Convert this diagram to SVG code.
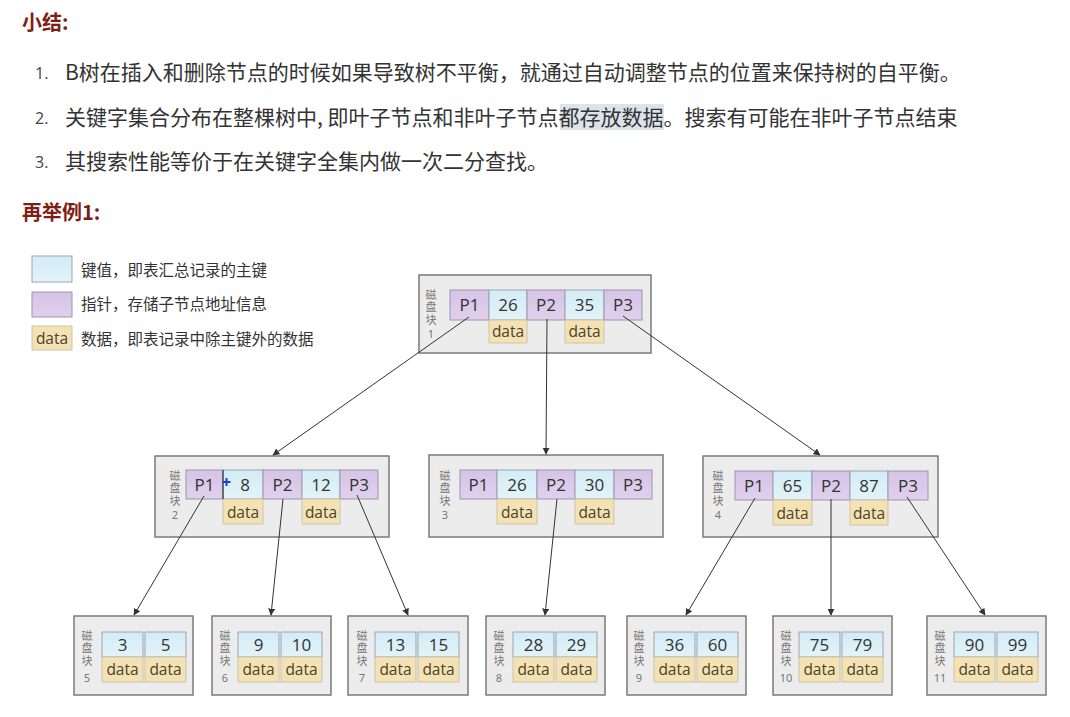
<svg xmlns="http://www.w3.org/2000/svg" width="1070" height="717" viewBox="0 0 1070 717">
  <defs>
    <marker id="arrow" viewBox="0 0 10 10" refX="9" refY="5" markerWidth="7" markerHeight="7" markerUnits="userSpaceOnUse" orient="auto">
      <path d="M0,0 L10,5 L0,10 z" fill="#333"/>
    </marker>
    <linearGradient id="gKey" x1="0" y1="0" x2="0" y2="1">
      <stop offset="0" stop-color="#d3ecf6"/>
      <stop offset="1" stop-color="#e3f3f8"/>
    </linearGradient>
    <linearGradient id="gPtr" x1="0" y1="0" x2="0" y2="1">
      <stop offset="0" stop-color="#d6c3e6"/>
      <stop offset="1" stop-color="#e0d0ec"/>
    </linearGradient>
  </defs>
  <style>
    .title { font-family: "Noto Sans CJK SC", sans-serif; font-size: 20px; font-weight: bold; fill: #7e1f16; }
    .body { font-family: "Noto Sans CJK SC", sans-serif; font-size: 21px; fill: #333; }
    .num { font-family: "Open Sans", "Noto Sans", sans-serif; font-size: 16px; fill: #444; }
    .legend { font-family: "Noto Sans CJK SC", sans-serif; font-size: 15.5px; fill: #333; }
    .box { fill: #ececec; stroke: #7a7a7a; stroke-width: 1.5; }
    .key { fill: url(#gKey); stroke: #9ba3b3; stroke-width: 1; }
    .ptr { fill: url(#gPtr); stroke: #9b95ad; stroke-width: 1; }
    .dat { fill: #f5e2b3; stroke: #c9c3b0; stroke-width: 1; }
    .ct { font-family: "Open Sans", "Noto Sans", sans-serif; font-size: 17px; fill: #333; text-anchor: middle; }
    .dt { font-family: "Open Sans", "Noto Sans", sans-serif; font-size: 15.5px; fill: #4a4230; text-anchor: middle; }
    .vl { font-family: "Noto Sans CJK SC", sans-serif; font-size: 11px; fill: #777; writing-mode: vertical-rl; text-orientation: upright; letter-spacing: 1.5px; }
    .lbl { font-family: "Noto Sans", sans-serif; font-size: 11px; fill: #777; text-anchor: middle; }
    .conn line { stroke: #333; stroke-width: 1; marker-end: url(#arrow); }
  </style>

  <rect width="1070" height="717" fill="#ffffff"/>

  <!-- summary text -->
  <g id="summary">
    <text class="title" x="22" y="30">小结:</text>
    <rect x="560" y="104" width="104" height="26" fill="#dde3ea"/>
    <text class="num" x="35" y="79">1.</text>
    <text class="body" x="65" y="80">B树在插入和删除节点的时候如果导致树不平衡，就通过自动调整节点的位置来保持树的自平衡。</text>
    <text class="num" x="35" y="124">2.</text>
    <text class="body" x="65" y="125">关键字集合分布在整棵树中, 即叶子节点和非叶子节点都存放数据。搜索有可能在非叶子节点结束</text>
    <text class="num" x="35" y="168">3.</text>
    <text class="body" x="65" y="169">其搜索性能等价于在关键字全集内做一次二分查找。</text>
    <text class="title" x="22" y="220">再举例1:</text>
  </g>

  <!-- legend -->
  <g id="legend">
    <rect class="key" x="32" y="256" width="40" height="26"/>
    <text class="legend" x="81" y="276">键值，即表汇总记录的主键</text>
    <rect class="ptr" x="32" y="292" width="40" height="25"/>
    <text class="legend" x="81" y="310">指针，存储子节点地址信息</text>
    <rect class="dat" x="32" y="326" width="40" height="24"/>
    <text class="dt" x="52" y="344">data</text>
    <text class="legend" x="81" y="345">数据，即表记录中除主键外的数据</text>
  </g>

  <!-- disk block 1 (root) -->
  <g id="block1">
    <rect class="box" x="419" y="275" width="232" height="78"/>
    <text class="vl" x="431" y="289">磁盘块</text>
    <text class="lbl" x="431" y="338">1</text>
    <rect class="ptr" x="450" y="290" width="39" height="30"/>
    <rect class="key" x="489" y="290" width="38" height="30"/>
    <rect class="ptr" x="527" y="290" width="38" height="30"/>
    <rect class="key" x="565" y="290" width="39" height="30"/>
    <rect class="ptr" x="604" y="290" width="38" height="30"/>
    <rect class="dat" x="489" y="320" width="38" height="23"/>
    <rect class="dat" x="565" y="320" width="39" height="23"/>
    <text class="ct" x="469.5" y="311">P1</text>
    <text class="ct" x="508" y="311">26</text>
    <text class="ct" x="546" y="311">P2</text>
    <text class="ct" x="584.5" y="311">35</text>
    <text class="ct" x="623" y="311">P3</text>
    <text class="dt" x="508" y="337">data</text>
    <text class="dt" x="584.5" y="337">data</text>
  </g>

  <!-- disk block 2 -->
  <g id="block2">
    <rect class="box" x="155" y="456" width="234" height="81"/>
    <text class="vl" x="175" y="470">磁盘块</text>
    <text class="lbl" x="175" y="519">2</text>
    <rect class="ptr" x="186" y="470" width="37" height="29"/>
    <rect class="key" x="223" y="470" width="40" height="29"/>
    <rect class="ptr" x="263" y="470" width="39" height="29"/>
    <rect class="key" x="302" y="470" width="38" height="29"/>
    <rect class="ptr" x="340" y="470" width="38" height="29"/>
    <rect class="dat" x="223" y="499" width="40" height="25"/>
    <rect class="dat" x="302" y="499" width="38" height="25"/>
    <line x1="223" y1="470" x2="223" y2="499" stroke="#333" stroke-width="1.2"/>
    <text class="ct" x="204.5" y="491">P1</text>
    <text class="ct" x="245" y="491">8</text>
    <text class="ct" x="282.5" y="491">P2</text>
    <text class="ct" x="321" y="491">12</text>
    <text class="ct" x="359" y="491">P3</text>
    <text class="dt" x="243" y="518">data</text>
    <text class="dt" x="321" y="518">data</text>
    <path d="M222.5,482 H230.5 M226.5,478 V486" stroke="#1a3cd0" stroke-width="2"/>
  </g>

  <!-- disk block 3 -->
  <g id="block3">
    <rect class="box" x="429" y="455" width="234" height="82"/>
    <text class="vl" x="445" y="470">磁盘块</text>
    <text class="lbl" x="445" y="519">3</text>
    <rect class="ptr" x="460" y="470" width="37" height="29"/>
    <rect class="key" x="497" y="470" width="40" height="29"/>
    <rect class="ptr" x="537" y="470" width="38" height="29"/>
    <rect class="key" x="575" y="470" width="39" height="29"/>
    <rect class="ptr" x="614" y="470" width="38" height="29"/>
    <rect class="dat" x="497" y="499" width="40" height="25"/>
    <rect class="dat" x="575" y="499" width="39" height="25"/>
    <text class="ct" x="478.5" y="491">P1</text>
    <text class="ct" x="517" y="491">26</text>
    <text class="ct" x="556" y="491">P2</text>
    <text class="ct" x="594.5" y="491">30</text>
    <text class="ct" x="633" y="491">P3</text>
    <text class="dt" x="517" y="518">data</text>
    <text class="dt" x="594.5" y="518">data</text>
  </g>

  <!-- disk block 4 -->
  <g id="block4">
    <rect class="box" x="703" y="456" width="235" height="81"/>
    <text class="vl" x="718" y="470">磁盘块</text>
    <text class="lbl" x="718" y="519">4</text>
    <rect class="ptr" x="735" y="471" width="38" height="29"/>
    <rect class="key" x="773" y="471" width="39" height="29"/>
    <rect class="ptr" x="812" y="471" width="38" height="29"/>
    <rect class="key" x="850" y="471" width="38" height="29"/>
    <rect class="ptr" x="888" y="471" width="40" height="29"/>
    <rect class="dat" x="773" y="500" width="39" height="25"/>
    <rect class="dat" x="850" y="500" width="38" height="25"/>
    <text class="ct" x="754" y="492">P1</text>
    <text class="ct" x="792.5" y="492">65</text>
    <text class="ct" x="831" y="492">P2</text>
    <text class="ct" x="869" y="492">87</text>
    <text class="ct" x="908" y="492">P3</text>
    <text class="dt" x="792.5" y="519">data</text>
    <text class="dt" x="869" y="519">data</text>
  </g>

  <!-- leaf blocks 5..11 -->
  <g id="block5">
    <rect class="box" x="74" y="616" width="119" height="79"/>
    <text class="vl" x="87" y="630">磁盘块</text><text class="lbl" x="87" y="682">5</text>
    <rect class="key" x="102" y="632" width="41" height="25"/><rect class="key" x="145" y="632" width="41" height="25"/>
    <rect class="dat" x="102" y="657" width="41" height="25"/><rect class="dat" x="145" y="657" width="41" height="25"/>
    <text class="ct" x="122.5" y="651">3</text><text class="ct" x="165.5" y="651">5</text>
    <text class="dt" x="122.5" y="675">data</text><text class="dt" x="165.5" y="675">data</text>
  </g>
  <g id="block6">
    <rect class="box" x="212" y="616" width="119" height="79"/>
    <text class="vl" x="225" y="630">磁盘块</text><text class="lbl" x="225" y="682">6</text>
    <rect class="key" x="238" y="632" width="41" height="25"/><rect class="key" x="281" y="632" width="41" height="25"/>
    <rect class="dat" x="238" y="657" width="41" height="25"/><rect class="dat" x="281" y="657" width="41" height="25"/>
    <text class="ct" x="258.5" y="651">9</text><text class="ct" x="301.5" y="651">10</text>
    <text class="dt" x="258.5" y="675">data</text><text class="dt" x="301.5" y="675">data</text>
  </g>
  <g id="block7">
    <rect class="box" x="348" y="616" width="120" height="79"/>
    <text class="vl" x="362" y="630">磁盘块</text><text class="lbl" x="362" y="682">7</text>
    <rect class="key" x="375" y="632" width="41" height="25"/><rect class="key" x="418" y="632" width="41" height="25"/>
    <rect class="dat" x="375" y="657" width="41" height="25"/><rect class="dat" x="418" y="657" width="41" height="25"/>
    <text class="ct" x="395.5" y="651">13</text><text class="ct" x="438.5" y="651">15</text>
    <text class="dt" x="395.5" y="675">data</text><text class="dt" x="438.5" y="675">data</text>
  </g>
  <g id="block8">
    <rect class="box" x="486" y="616" width="119" height="79"/>
    <text class="vl" x="499" y="630">磁盘块</text><text class="lbl" x="499" y="682">8</text>
    <rect class="key" x="513" y="632" width="41" height="25"/><rect class="key" x="556" y="632" width="41" height="25"/>
    <rect class="dat" x="513" y="657" width="41" height="25"/><rect class="dat" x="556" y="657" width="41" height="25"/>
    <text class="ct" x="533.5" y="651">28</text><text class="ct" x="576.5" y="651">29</text>
    <text class="dt" x="533.5" y="675">data</text><text class="dt" x="576.5" y="675">data</text>
  </g>
  <g id="block9">
    <rect class="box" x="627" y="616" width="119" height="79"/>
    <text class="vl" x="639" y="630">磁盘块</text><text class="lbl" x="639" y="682">9</text>
    <rect class="key" x="654" y="632" width="41" height="25"/><rect class="key" x="697" y="632" width="41" height="25"/>
    <rect class="dat" x="654" y="657" width="41" height="25"/><rect class="dat" x="697" y="657" width="41" height="25"/>
    <text class="ct" x="674.5" y="651">36</text><text class="ct" x="717.5" y="651">60</text>
    <text class="dt" x="674.5" y="675">data</text><text class="dt" x="717.5" y="675">data</text>
  </g>
  <g id="block10">
    <rect class="box" x="773" y="616" width="119" height="79"/>
    <text class="vl" x="786" y="630">磁盘块</text><text class="lbl" x="786" y="682">10</text>
    <rect class="key" x="799" y="632" width="41" height="25"/><rect class="key" x="842" y="632" width="41" height="25"/>
    <rect class="dat" x="799" y="657" width="41" height="25"/><rect class="dat" x="842" y="657" width="41" height="25"/>
    <text class="ct" x="819.5" y="651">75</text><text class="ct" x="862.5" y="651">79</text>
    <text class="dt" x="819.5" y="675">data</text><text class="dt" x="862.5" y="675">data</text>
  </g>
  <g id="block11">
    <rect class="box" x="927" y="616" width="119" height="79"/>
    <text class="vl" x="940" y="630">磁盘块</text><text class="lbl" x="940" y="682">11</text>
    <rect class="key" x="954" y="632" width="41" height="25"/><rect class="key" x="997" y="632" width="41" height="25"/>
    <rect class="dat" x="954" y="657" width="41" height="25"/><rect class="dat" x="997" y="657" width="41" height="25"/>
    <text class="ct" x="974.5" y="651">90</text><text class="ct" x="1017.5" y="651">99</text>
    <text class="dt" x="974.5" y="675">data</text><text class="dt" x="1017.5" y="675">data</text>
  </g>

  <!-- pointer connectors -->
  <g id="connectors" class="conn">
    <line x1="469" y1="317" x2="273" y2="455"/>
    <line x1="547" y1="319" x2="546" y2="454"/>
    <line x1="623" y1="316" x2="820" y2="455"/>
    <line x1="204" y1="496" x2="134" y2="615"/>
    <line x1="283" y1="499" x2="271" y2="615"/>
    <line x1="357" y1="495" x2="408" y2="615"/>
    <line x1="557" y1="499" x2="545" y2="615"/>
    <line x1="755" y1="498" x2="686" y2="615"/>
    <line x1="831" y1="499" x2="831" y2="615"/>
    <line x1="907" y1="497" x2="985" y2="615"/>
  </g>
</svg>
